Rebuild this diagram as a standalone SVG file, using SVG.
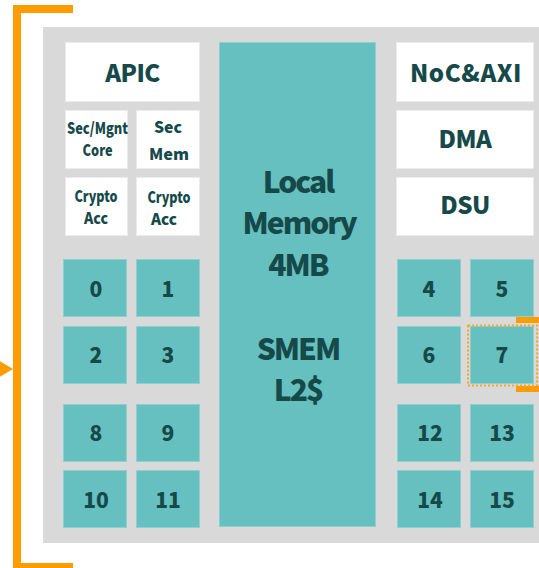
<svg xmlns="http://www.w3.org/2000/svg" width="539" height="568" viewBox="0 0 539 568">
<style>
.bg{fill:#d9d9d9}
.w{fill:#ffffff;stroke:#ececec;stroke-width:1}
.c{fill:#66c0c0;stroke:#8ed0d0;stroke-width:1}
.t{font-family:"Noto Sans CJK KR",Lato,sans-serif;font-weight:900;fill:#16494a;text-anchor:middle}
.big{font-size:24px;letter-spacing:-0.5px}
.num{font-size:21px}
.sm{font-size:16px}
.mem{font-size:30px;letter-spacing:-2px}
.or{fill:#ff9c00}
</style>
<rect class="bg" x="43" y="27" width="500" height="516"/>
<g id="connectors">
<path d="M73 9H17V567H73" fill="none" stroke="#ff9c00" stroke-width="8"/>
<polygon class="or" points="-2,360 13,369 -2,378"/>
<rect class="or" x="516" y="317" width="25" height="6"/>
<rect class="or" x="516" y="386" width="25" height="6"/>
</g>
<g id="apic"><rect class="w" x="65.5" y="42.5" width="134" height="59"/><text class="t big" x="132.5" y="82">APIC</text></g>
<g id="secmgnt"><rect class="w" x="65.5" y="110.5" width="62" height="58"/><text class="t sm" x="97.5" y="134" textLength="61" lengthAdjust="spacingAndGlyphs">Sec/Mgnt</text><text class="t sm" x="97.5" y="156" textLength="30" lengthAdjust="spacingAndGlyphs">Core</text></g>
<g id="secmem"><rect class="w" x="136.5" y="110.5" width="63" height="58"/><text class="t sm" x="168" y="133" textLength="28" lengthAdjust="spacingAndGlyphs">Sec</text><text class="t sm" x="169" y="160" textLength="40" lengthAdjust="spacingAndGlyphs">Mem</text></g>
<g id="crypto1"><rect class="w" x="65.5" y="177.5" width="62" height="58"/><text class="t sm" x="96" y="202" textLength="43" lengthAdjust="spacingAndGlyphs">Crypto</text><text class="t sm" x="96" y="224" textLength="24" lengthAdjust="spacingAndGlyphs">Acc</text></g>
<g id="crypto2"><rect class="w" x="136.5" y="177.5" width="63" height="58"/><text class="t sm" x="169" y="203" textLength="43" lengthAdjust="spacingAndGlyphs">Crypto</text><text class="t sm" x="164" y="225" textLength="26" lengthAdjust="spacingAndGlyphs">Acc</text></g>
<g id="localmem"><rect class="c" x="219.5" y="42.5" width="156" height="484"/>
<text class="t mem" x="298" y="193">Local</text>
<text class="t mem" x="299" y="234">Memory</text>
<text class="t mem" x="298" y="276">4MB</text>
<text class="t mem" x="298" y="360">SMEM</text>
<text class="t mem" x="298" y="401">L2$</text></g>
<g id="noc"><rect class="w" x="396.5" y="42.5" width="137" height="59"/><text class="t big" x="466" y="82" style="letter-spacing:0.6px">NoC&amp;AXI</text></g>
<g id="dma"><rect class="w" x="396.5" y="110.5" width="137" height="58"/><text class="t big" x="465" y="148">DMA</text></g>
<g id="dsu"><rect class="w" x="396.5" y="177.5" width="137" height="58"/><text class="t big" x="465" y="214">DSU</text></g>
<g id="c0"><rect class="c" x="63.5" y="259.5" width="63" height="57"/><text class="t num" x="96" y="297">0</text></g>
<g id="c1"><rect class="c" x="136.5" y="259.5" width="63" height="57"/><text class="t num" x="168" y="297">1</text></g>
<g id="c2"><rect class="c" x="63.5" y="326.5" width="63" height="57"/><text class="t num" x="96" y="363">2</text></g>
<g id="c3"><rect class="c" x="136.5" y="326.5" width="63" height="57"/><text class="t num" x="168" y="363">3</text></g>
<g id="c8"><rect class="c" x="63.5" y="404.5" width="63" height="57"/><text class="t num" x="96" y="441">8</text></g>
<g id="c9"><rect class="c" x="136.5" y="404.5" width="63" height="57"/><text class="t num" x="168" y="441">9</text></g>
<g id="c10"><rect class="c" x="63.5" y="470.5" width="63" height="57"/><text class="t num" x="96" y="508">10</text></g>
<g id="c11"><rect class="c" x="136.5" y="470.5" width="63" height="57"/><text class="t num" x="168" y="508">11</text></g>
<g id="c4"><rect class="c" x="397.5" y="259.5" width="63" height="57"/><text class="t num" x="429" y="297">4</text></g>
<g id="c5"><rect class="c" x="470.5" y="259.5" width="63" height="57"/><text class="t num" x="502" y="297">5</text></g>
<g id="c6"><rect class="c" x="397.5" y="326.5" width="63" height="57"/><text class="t num" x="429" y="363">6</text></g>
<g id="c7"><rect class="c" x="470.5" y="326.5" width="63" height="57"/><text class="t num" x="502" y="363">7</text>
<rect x="468" y="325.5" width="69" height="60" fill="none" stroke="#f7a823" stroke-width="2" stroke-dasharray="2 2"/></g>
<g id="c12"><rect class="c" x="397.5" y="404.5" width="63" height="57"/><text class="t num" x="430" y="441">12</text></g>
<g id="c13"><rect class="c" x="470.5" y="404.5" width="63" height="57"/><text class="t num" x="502" y="441">13</text></g>
<g id="c14"><rect class="c" x="397.5" y="470.5" width="63" height="57"/><text class="t num" x="430" y="508">14</text></g>
<g id="c15"><rect class="c" x="470.5" y="470.5" width="63" height="57"/><text class="t num" x="502" y="508">15</text></g>
</svg>
